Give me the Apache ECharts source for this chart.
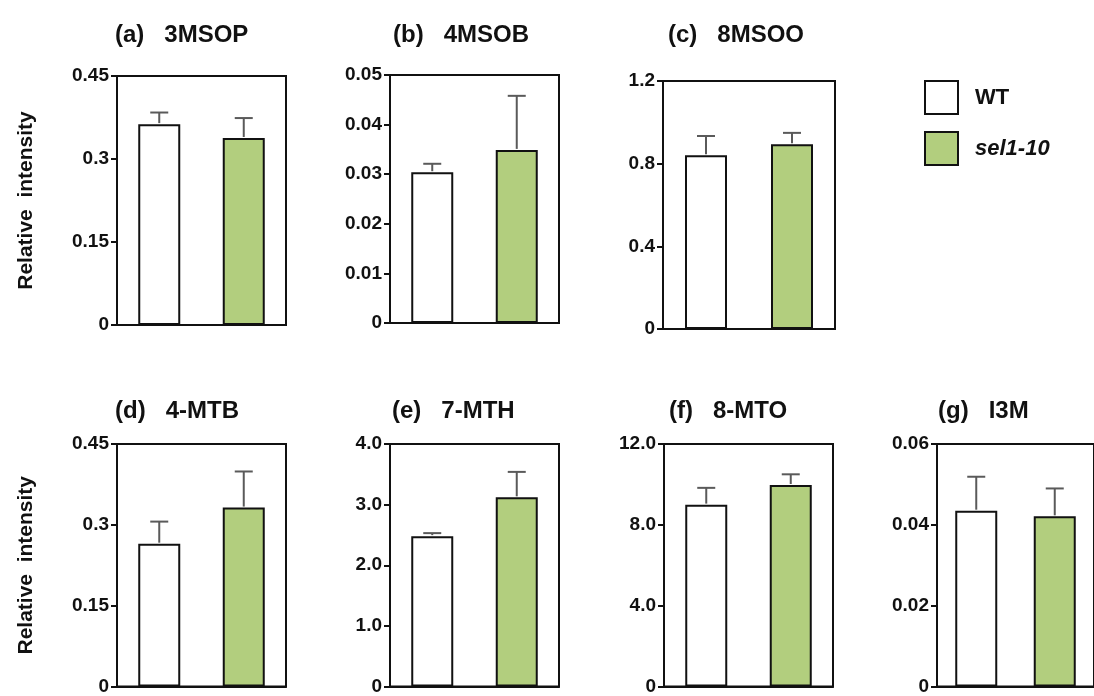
<!DOCTYPE html>
<html>
<head>
<meta charset="utf-8">
<script src="https://cdn.jsdelivr.net/npm/echarts@6/dist/echarts.min.js"></script>
<style>
html,body{margin:0;padding:0;background:#fff;}
#chart{width:1094px;height:696px;}
</style>
</head>
<body>
<div id="chart"></div>
<script>
// ---- data ----
const categories = ['WT', 'sel1-10'];
const panelTitles = ['(a)   3MSOP', '(b)   4MSOB', '(c)   8MSOO', '(d)   4-MTB', '(e)   7-MTH', '(f)   8-MTO', '(g)   I3M'];
const wtMeans  = [0.363, 0.0304, 0.841, 0.265, 2.48, 9.00, 0.0435];
const wtSD     = [0.021, 0.0017, 0.093, 0.041, 0.05, 0.83, 0.0084];
const selMeans = [0.338, 0.0349, 0.894, 0.332, 3.12, 9.97, 0.0421];
const selSD    = [0.036, 0.0109, 0.055, 0.067, 0.42, 0.53, 0.0069];
const yMax  = [0.45, 0.05, 1.2, 0.45, 4, 12, 0.06];
const yStep = [0.15, 0.01, 0.4, 0.15, 1, 4, 0.02];
const tickLabels = [
  ['0', '0.15', '0.3', '0.45'],
  ['0', '0.01', '0.02', '0.03', '0.04', '0.05'],
  ['0', '0.4', '0.8', '1.2'],
  ['0', '0.15', '0.3', '0.45'],
  ['0', '1.0', '2.0', '3.0', '4.0'],
  ['0', '4.0', '8.0', '12.0'],
  ['0', '0.02', '0.04', '0.06']
];
const yAxisName = 'Relative  intensity';

// ---- layout ----
const layout = [
  {left: 117, top: 76,  width: 169, height: 249, tl: 115, tt: 23},
  {left: 390, top: 75,  width: 169, height: 248, tl: 393, tt: 23},
  {left: 663, top: 81,  width: 172, height: 248, tl: 668, tt: 23},
  {left: 117, top: 444, width: 169, height: 248, tl: 115, tt: 399},
  {left: 390, top: 444, width: 169, height: 247, tl: 392, tt: 399},
  {left: 664, top: 444, width: 169, height: 247, tl: 669, tt: 399},
  {left: 937, top: 444, width: 169, height: 247, tl: 938, tt: 399}
];
const FONT = "'Liberation Sans', Arial, sans-serif";
const BLACK = '#111';
const GREEN = '#b2ce7e';
const ERR = '#5a5a5a';

const grids = [], xAxes = [], yAxes = [], series = [], titles = [];
layout.forEach((g, i) => {
  grids.push({left: g.left, top: g.top, width: g.width, height: g.height,
    show: true, borderColor: BLACK, borderWidth: 2, backgroundColor: 'transparent'});
  titles.push({text: panelTitles[i], left: g.tl, top: g.tt, padding: 0,
    textStyle: {fontFamily: FONT, fontWeight: 'bold', fontSize: 24, color: BLACK, lineHeight: 24}});
  xAxes.push({type: 'category', gridIndex: i, data: categories,
    axisLine: {lineStyle: {color: BLACK, width: 2}},
    axisTick: {show: false}, axisLabel: {show: false}, splitLine: {show: false}});
  const labels = tickLabels[i], step = yStep[i];
  const ya = {type: 'value', gridIndex: i, min: 0, max: yMax[i], interval: step,
    axisLine: {show: true, lineStyle: {color: BLACK, width: 2}},
    axisTick: {show: true, length: 6, lineStyle: {color: BLACK, width: 2}},
    splitLine: {show: false},
    axisLabel: {margin: 8, color: BLACK, fontFamily: FONT, fontWeight: 'bold', fontSize: 19,
      formatter: v => labels[Math.round(v / step)]}};
  if (i === 0 || i === 3) {
    ya.name = yAxisName;
    ya.nameLocation = 'middle';
    ya.nameGap = 80;
    ya.nameTextStyle = {fontFamily: FONT, fontWeight: 'bold', fontSize: 21, color: BLACK};
  }
  yAxes.push(ya);
  series.push({name: 'WT', type: 'bar', xAxisIndex: i, yAxisIndex: i, barWidth: 42, barGap: '-100%',
    data: [wtMeans[i], '-'],
    itemStyle: {color: '#ffffff', borderColor: BLACK, borderWidth: 2}, silent: true});
  series.push({name: 'sel1-10', type: 'bar', xAxisIndex: i, yAxisIndex: i, barWidth: 42, barGap: '-100%',
    data: ['-', selMeans[i]],
    itemStyle: {color: GREEN, borderColor: BLACK, borderWidth: 2}, silent: true});
  series.push({type: 'custom', xAxisIndex: i, yAxisIndex: i, silent: true, z: 1,
    data: [[0, wtMeans[i], wtSD[i]], [1, selMeans[i], selSD[i]]],
    encode: {x: 0, y: 1},
    renderItem: (params, api) => {
      const x = api.value(0), m = api.value(1), sd = api.value(2);
      const b = api.coord([x, m]);
      const t = api.coord([x, m + sd]);
      const st = {stroke: ERR, lineWidth: 2};
      return {type: 'group', children: [
        {type: 'line', shape: {x1: b[0], y1: b[1] - 1, x2: t[0], y2: t[1]}, style: st},
        {type: 'line', shape: {x1: t[0] - 9, y1: t[1], x2: t[0] + 9, y2: t[1]}, style: st}
      ]};
    }});
});

const chart = echarts.init(document.getElementById('chart'), null, {renderer: 'canvas'});
chart.setOption({
  animation: false,
  backgroundColor: '#fff',
  title: titles,
  grid: grids,
  xAxis: xAxes,
  yAxis: yAxes,
  series: series,
  legend: {
    orient: 'vertical', left: 924, top: 80, padding: 0,
    itemWidth: 33, itemHeight: 33, itemGap: 16,
    selectedMode: false, icon: 'rect',
    data: categories,
    formatter: n => n === 'WT' ? '{n|WT}' : '{i|' + n + '}',
    textStyle: {rich: {
      n: {fontFamily: FONT, fontWeight: 'bold', fontSize: 22, color: BLACK, padding: [0, 0, 0, 12]},
      i: {fontFamily: FONT, fontWeight: 'bold', fontStyle: 'italic', fontSize: 22, color: BLACK, padding: [0, 0, 0, 12]}
    }}
  }
});
</script>
</body>
</html>
